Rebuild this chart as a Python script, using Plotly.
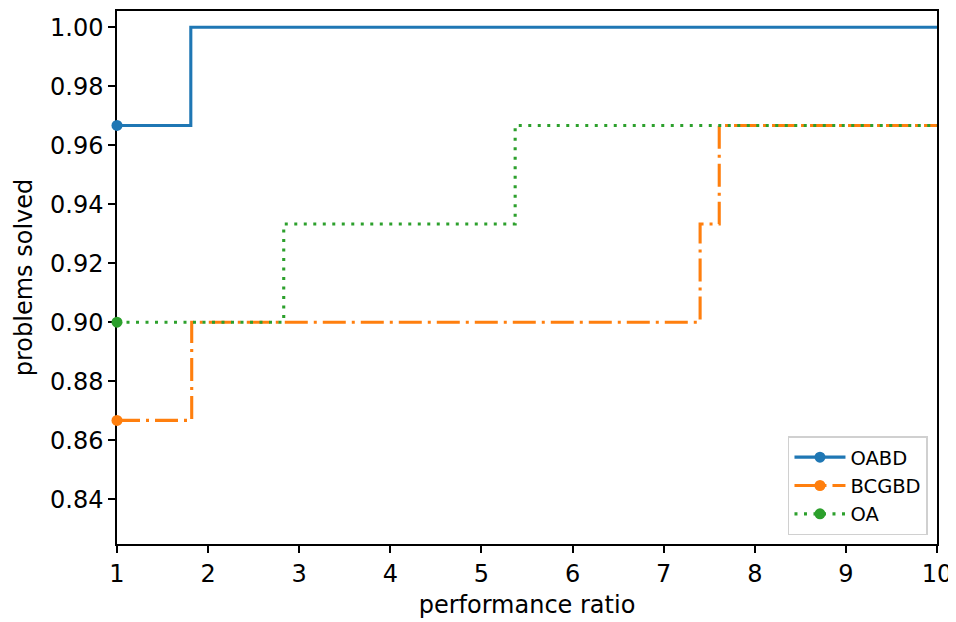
import plotly.graph_objects as go

# data
oabd_x = [1, 1.81, 10]
oabd_y = [0.9667, 1.0, 1.0]
bcgbd_x = [1, 1.82, 7.40, 7.61, 10]
bcgbd_y = [0.8667, 0.9, 0.9333, 0.9667, 0.9667]
oa_x = [1, 2.83, 5.37, 10]
oa_y = [0.9, 0.9333, 0.9667, 0.9667]

x_ticks = [1, 2, 3, 4, 5, 6, 7, 8, 9, 10]
y_ticks = [0.84, 0.86, 0.88, 0.90, 0.92, 0.94, 0.96, 0.98, 1.00]

series = [
    ("OABD", oabd_x, oabd_y, "#1f77b4", "solid"),
    ("BCGBD", bcgbd_x, bcgbd_y, "#ff7f0e", "23px,6px,3px,6px"),
    ("OA", oa_x, oa_y, "#2ca02c", "3px,6.5px"),
]

fig = go.Figure()
for name, xs, ys, color, dash in series:
    symbols = ["circle"] + ["line-ew"] * (len(xs) - 1)
    fig.add_trace(go.Scatter(
        x=xs, y=ys, name=name, mode="lines+markers", cliponaxis=False,
        line=dict(color=color, width=3.1, dash=dash, shape="hv"),
        marker=dict(color=color, size=11, symbol=symbols, line=dict(width=0)),
    ))

font = "DejaVu Sans"
axis_common = dict(
    showline=True, linecolor="black", linewidth=1.5, mirror=True,
    ticks="outside", ticklen=7, tickwidth=1.5, tickcolor="black",
    showgrid=False, zeroline=False, automargin=False, layer="below traces",
    tickfont=dict(family=font, size=24, color="black"),
)
fig.update_layout(
    width=948, height=614,
    margin=dict(l=109, r=19, t=3, b=78),
    paper_bgcolor="white", plot_bgcolor="white",
    showlegend=True,
    legend=dict(
        x=0.989, y=0.016, xanchor="right", yanchor="bottom",
        bgcolor="rgba(255,255,255,0.8)", bordercolor="#d0d0d0", borderwidth=1.5,
        font=dict(family=font, size=19.5, color="black"),
        itemwidth=51,
    ),
    xaxis=dict(
        range=[1, 10], tickvals=x_ticks, ticktext=[str(v) for v in x_ticks],
        title=dict(text="performance ratio", font=dict(family=font, size=24, color="black"), standoff=10),
        **axis_common,
    ),
    yaxis=dict(
        range=[0.8248, 1.0055], tickvals=y_ticks, ticktext=[f"{v:.2f}" for v in y_ticks],
        title=dict(text="problems solved", font=dict(family=font, size=24, color="black"), standoff=11),
        **axis_common,
    ),
)

fig.write_html("out.html")
